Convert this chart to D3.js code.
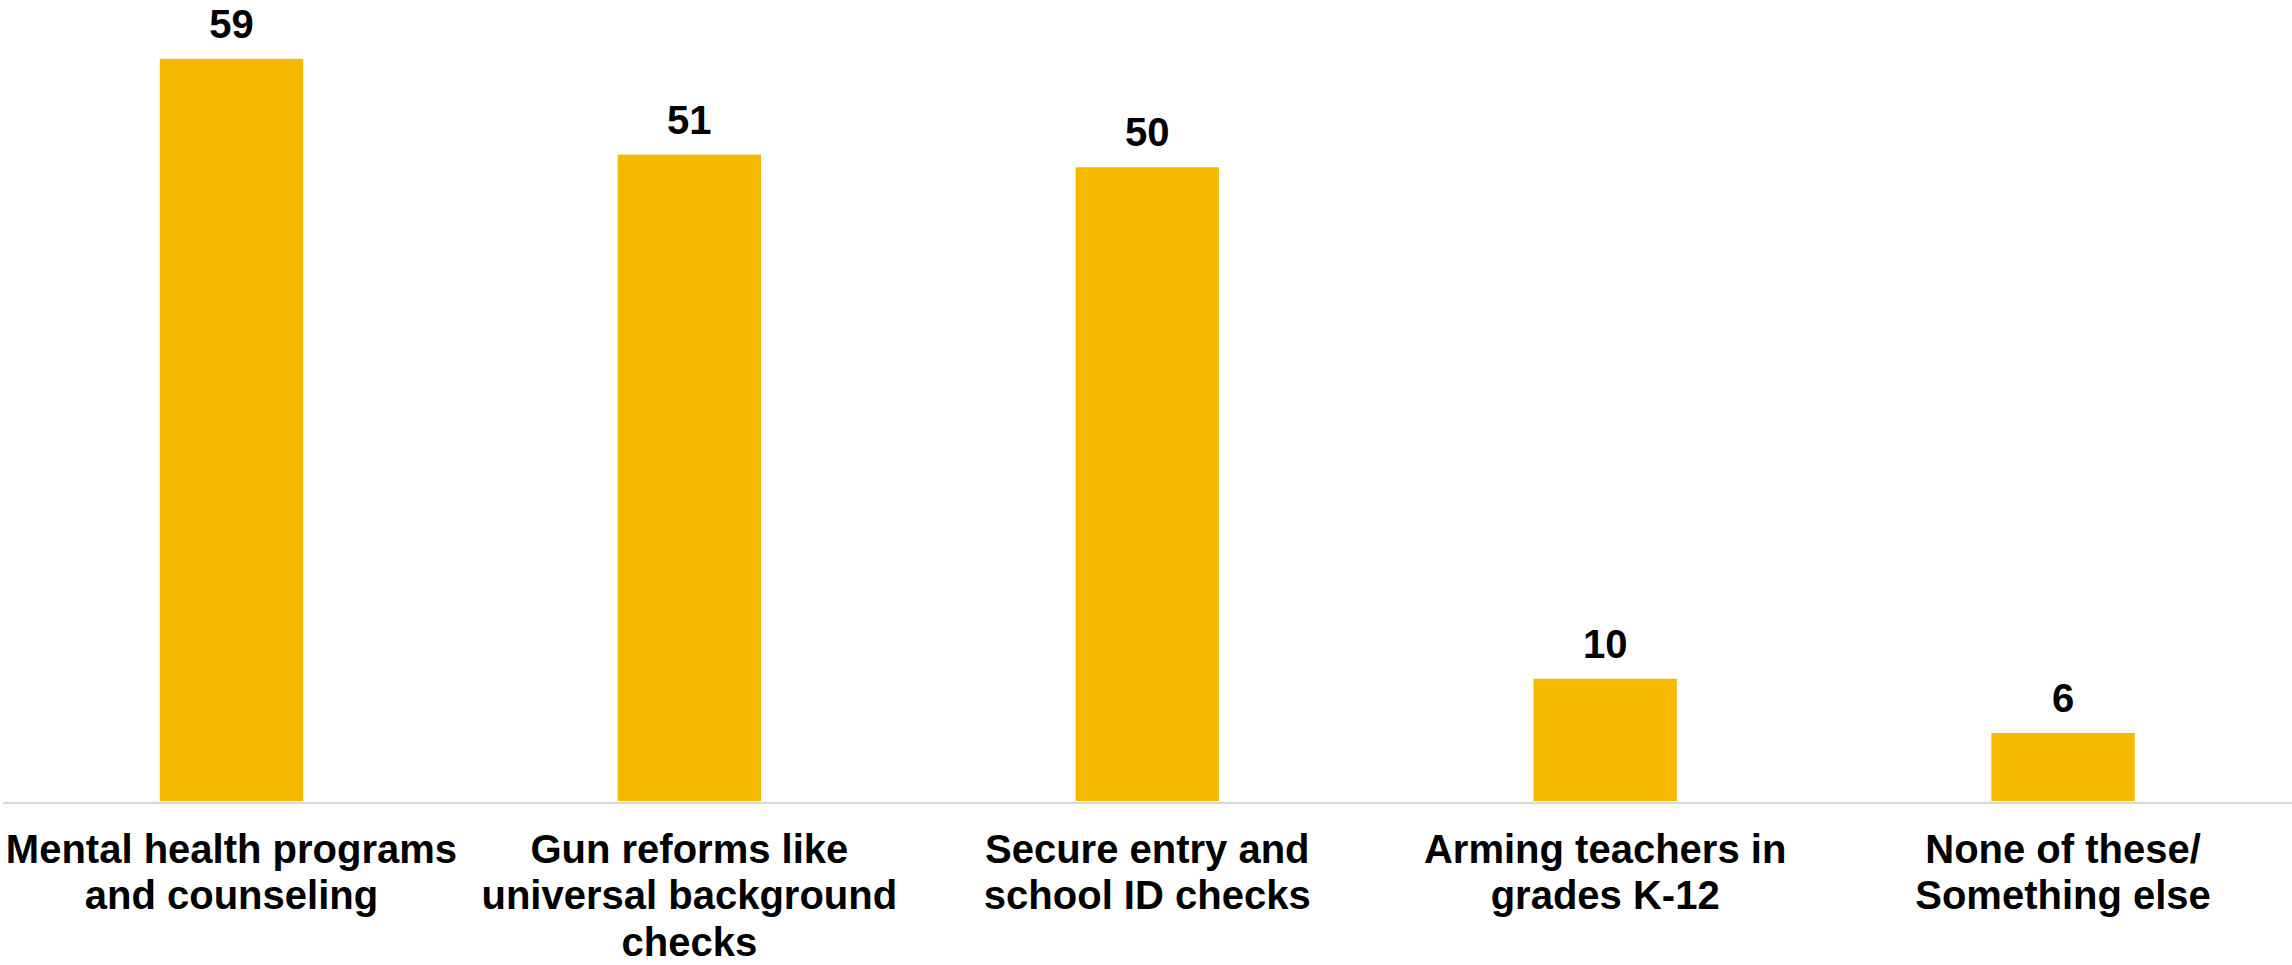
<!DOCTYPE html>
<html>
<head>
<meta charset="utf-8">
<script src="https://cdn.jsdelivr.net/npm/d3@7"></script>
<style>
  html, body { margin: 0; padding: 0; background: #ffffff; }
  svg { display: block; }
</style>
</head>
<body>
<svg id="chart" width="2292" height="965"></svg>
<script>
const categories = [
  "Mental health programs\nand counseling",
  "Gun reforms like\nuniversal background\nchecks",
  "Secure entry and\nschool ID checks",
  "Arming teachers in\ngrades K-12",
  "None of these/\nSomething else"
];
const values = [58.9, 51.3, 50.3, 9.7, 5.4];
const valueLabels = ["59", "51", "50", "10", "6"];

const W = 2292, H = 965;
const baseY = 801;
const svg = d3.select("#chart");
const font = "'Liberation Sans', Arial, sans-serif";

const x = d3.scaleBand()
  .domain(categories)
  .range([2.5, 2292])
  .paddingInner(0.687)
  .paddingOuter(0.3435);

const y = d3.scaleLinear()
  .domain([0, 60])
  .range([baseY, baseY - 60 * 12.6]);

const data = categories.map((c, i) => ({ c, v: values[i], label: valueLabels[i] }));

// bars
svg.append("g").selectAll("rect")
  .data(data)
  .enter().append("rect")
  .attr("x", d => x(d.c))
  .attr("y", d => y(d.v))
  .attr("width", x.bandwidth())
  .attr("height", d => y(0) - y(d.v))
  .attr("fill", "#F5BA00");

// baseline axis
const axis = d3.axisBottom(x).tickSize(0).tickFormat("");
const gAxis = svg.append("g")
  .attr("transform", `translate(0,${baseY + 1.3})`)
  .call(axis);
gAxis.select(".domain").attr("stroke", "#d9d9d9").attr("stroke-width", 2.2);

// value labels
svg.append("g").selectAll("text")
  .data(data)
  .enter().append("text")
  .attr("x", d => x(d.c) + x.bandwidth() / 2)
  .attr("y", d => y(d.v) - 21)
  .attr("text-anchor", "middle")
  .attr("font-family", font)
  .attr("font-weight", "bold")
  .attr("font-size", 40)
  .attr("fill", "#000")
  .text(d => d.label);

// category labels
const catG = svg.append("g");
data.forEach(d => {
  const lines = d.c.split("\n");
  const t = catG.append("text")
    .attr("text-anchor", "middle")
    .attr("font-family", font)
    .attr("font-weight", "bold")
    .attr("font-size", 40)
    .attr("fill", "#000");
  lines.forEach((ln, i) => {
    t.append("tspan")
      .attr("x", x(d.c) + x.bandwidth() / 2)
      .attr("y", 862.7 + i * 46.7)
      .text(ln);
  });
});
</script>
</body>
</html>
